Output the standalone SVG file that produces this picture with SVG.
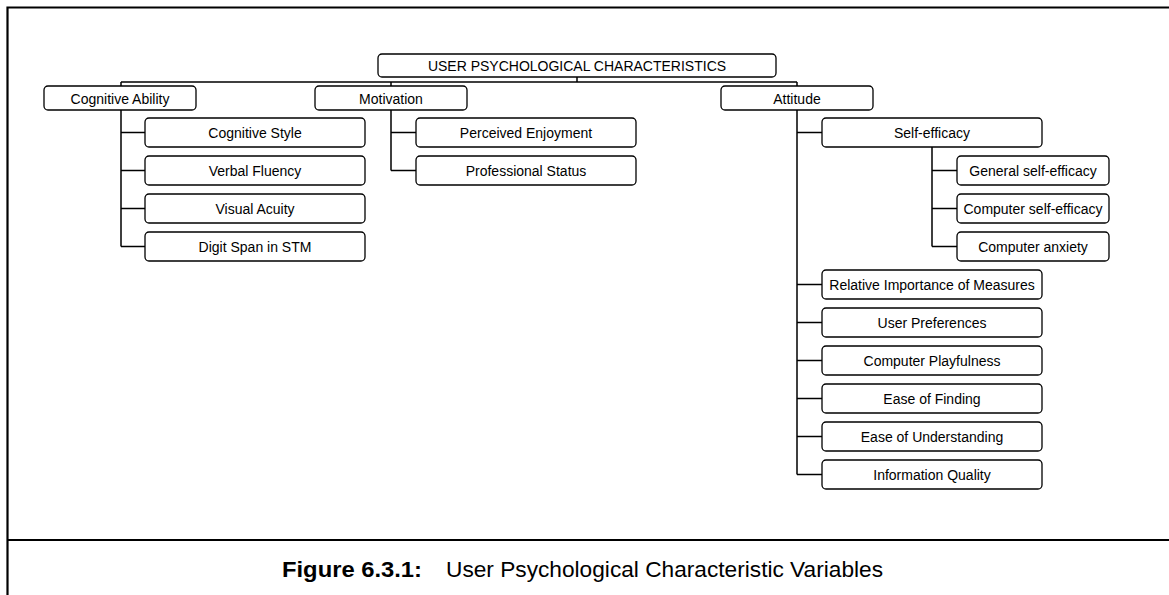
<svg xmlns="http://www.w3.org/2000/svg" width="1169" height="595" viewBox="0 0 1169 595">
<style>
.box{fill:#fff;stroke:#000;stroke-width:1.3}
.t{font-family:"Liberation Sans",Arial,sans-serif;font-size:14px;fill:#000;text-anchor:middle}
.c{fill:none;stroke:#000;stroke-width:1.5}
.frame{fill:none;stroke:#000;stroke-width:2.2}
.cap{font-family:"Liberation Sans",Arial,sans-serif;font-size:22.5px;fill:#000}
</style>
<rect width="1169" height="595" fill="#fff"/>
<g id="frame">
<path class="frame" d="M7.5,595 V7.5 H1169 M7.5,540 H1169"/>
</g>
<g id="connectors">
<path class="c" d="M577,77 V82 M121,82 H797 M121,82 V86 M391,82 V86 M797,82 V86"/>
<path class="c" d="M121,110 V246.5 M121,132.5 H145 M121,170.5 H145 M121,208.5 H145 M121,246.5 H145"/>
<path class="c" d="M391,110 V170.5 M391,132.5 H416 M391,170.5 H416"/>
<path class="c" d="M797,110 V474.5 M797,132.5 H822 M797,284.5 H822 M797,322.5 H822 M797,360.5 H822 M797,398.5 H822 M797,436.5 H822 M797,474.5 H822"/>
<path class="c" d="M932,147 V246.5 M932,170.5 H957 M932,208.5 H957 M932,246.5 H957"/>
</g>
<g id="root"><rect class="box" x="378" y="54" width="398" height="23" rx="4"/><text class="t" x="577" y="71">USER PSYCHOLOGICAL CHARACTERISTICS</text></g>
<g id="cognitive-ability"><rect class="box" x="44" y="86" width="152" height="24" rx="4"/><text class="t" x="120" y="103.5">Cognitive Ability</text></g>
<g id="motivation"><rect class="box" x="315" y="86" width="152" height="24" rx="4"/><text class="t" x="391" y="103.5">Motivation</text></g>
<g id="attitude"><rect class="box" x="721" y="86" width="152" height="24" rx="4"/><text class="t" x="797" y="103.5">Attitude</text></g>
<g id="cognitive-style"><rect class="box" x="145" y="118" width="220" height="29" rx="4"/><text class="t" x="255" y="137.5">Cognitive Style</text></g>
<g id="verbal-fluency"><rect class="box" x="145" y="156" width="220" height="29" rx="4"/><text class="t" x="255" y="175.5">Verbal Fluency</text></g>
<g id="visual-acuity"><rect class="box" x="145" y="194" width="220" height="29" rx="4"/><text class="t" x="255" y="213.5">Visual Acuity</text></g>
<g id="digit-span"><rect class="box" x="145" y="232" width="220" height="29" rx="4"/><text class="t" x="255" y="251.5">Digit Span in STM</text></g>
<g id="perceived-enjoyment"><rect class="box" x="416" y="118" width="220" height="29" rx="4"/><text class="t" x="526" y="137.5">Perceived Enjoyment</text></g>
<g id="professional-status"><rect class="box" x="416" y="156" width="220" height="29" rx="4"/><text class="t" x="526" y="175.5">Professional Status</text></g>
<g id="self-efficacy"><rect class="box" x="822" y="118" width="220" height="29" rx="4"/><text class="t" x="932" y="137.5">Self-efficacy</text></g>
<g id="general-self-efficacy"><rect class="box" x="957" y="156" width="152" height="29" rx="4"/><text class="t" x="1033" y="175.5">General self-efficacy</text></g>
<g id="computer-self-efficacy"><rect class="box" x="957" y="194" width="152" height="29" rx="4"/><text class="t" x="1033" y="213.5">Computer self-efficacy</text></g>
<g id="computer-anxiety"><rect class="box" x="957" y="232" width="152" height="29" rx="4"/><text class="t" x="1033" y="251.5">Computer anxiety</text></g>
<g id="relative-importance"><rect class="box" x="822" y="270" width="220" height="29" rx="4"/><text class="t" x="932" y="289.5">Relative Importance of Measures</text></g>
<g id="user-preferences"><rect class="box" x="822" y="308" width="220" height="29" rx="4"/><text class="t" x="932" y="327.5">User Preferences</text></g>
<g id="computer-playfulness"><rect class="box" x="822" y="346" width="220" height="29" rx="4"/><text class="t" x="932" y="365.5">Computer Playfulness</text></g>
<g id="ease-of-finding"><rect class="box" x="822" y="384" width="220" height="29" rx="4"/><text class="t" x="932" y="403.5">Ease of Finding</text></g>
<g id="ease-of-understanding"><rect class="box" x="822" y="422" width="220" height="29" rx="4"/><text class="t" x="932" y="441.5">Ease of Understanding</text></g>
<g id="information-quality"><rect class="box" x="822" y="460" width="220" height="29" rx="4"/><text class="t" x="932" y="479.5">Information Quality</text></g>
<g id="caption">
<text class="cap" x="282" y="577" font-weight="bold" textLength="140" lengthAdjust="spacingAndGlyphs">Figure 6.3.1:</text>
<text class="cap" x="446" y="577" textLength="437" lengthAdjust="spacingAndGlyphs">User Psychological Characteristic Variables</text>
</g>
</svg>
